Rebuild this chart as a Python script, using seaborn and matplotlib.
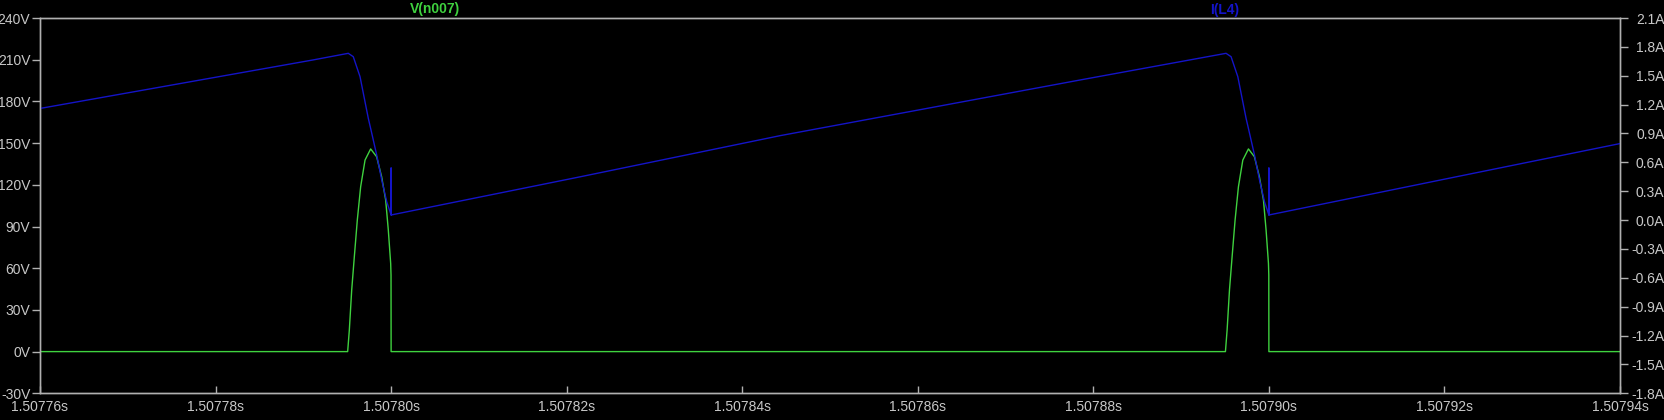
import matplotlib
matplotlib.use("Agg")
import matplotlib.pyplot as plt
import seaborn as sns
import pandas as pd
from matplotlib.ticker import FuncFormatter, FixedLocator

# ---- data (time as microseconds after 1.50776 s) ----
T0 = 1.50776
x_ticks_us = [0, 20, 40, 60, 80, 100, 120, 140, 160, 180]
v_ticks = [-30, 0, 30, 60, 90, 120, 150, 180, 210, 240]
i_ticks = [-1.8, -1.5, -1.2, -0.9, -0.6, -0.3, 0.0, 0.3, 0.6, 0.9, 1.2, 1.5, 1.8, 2.1]

# V(n007) in volts
v_time = [0.0, 35.05, 35.24, 35.51, 35.81, 36.15, 36.53, 37.03, 37.67, 38.35, 38.92,
          39.38, 39.68, 39.95, 39.99, 40.0,
          135.05, 135.24, 135.51, 135.81, 136.15, 136.53, 137.03, 137.67, 138.35, 138.92,
          139.38, 139.68, 139.95, 139.99, 140.0, 180.0]
v_vals = [0.0, 0.0, 15.5, 44.3, 68.3, 94.7, 118.6, 137.8, 145.8, 140.2, 125.8,
          109.1, 87.5, 63.5, 55.1, 0.0,
          0.0, 15.5, 44.3, 68.3, 94.7, 118.6, 137.8, 145.8, 140.2, 125.8,
          109.1, 87.5, 63.5, 55.1, 0.0, 0.0]

# I(L4) in amps
i_time = [0.0, 31.1, 35.12, 35.69, 36.46, 37.40, 37.71, 38.36, 38.93, 39.50, 40.0, 40.0, 40.0,
          61.5, 84.3, 118.5, 135.12, 135.69, 136.46, 137.40, 137.71, 138.36, 138.93, 139.50,
          140.0, 140.0, 140.0, 160.0, 180.0]
i_vals = [1.16, 1.664, 1.733, 1.698, 1.490, 1.058, 0.936, 0.676, 0.417, 0.191, 0.053, 0.541, 0.053,
          0.449, 0.877, 1.456, 1.733, 1.698, 1.490, 1.058, 0.936, 0.676, 0.417, 0.191,
          0.053, 0.541, 0.053, 0.425, 0.795]

sns.set_theme(style="dark")
plt.rcParams['font.family'] = ['Liberation Sans', 'DejaVu Sans']

W, H, DPI = 1664, 420, 100
fig = plt.figure(figsize=(W / DPI, H / DPI), dpi=DPI, facecolor="black")
ax = fig.add_axes([40 / W, 1 - 393.3 / H, (1620 - 40) / W, (393.3 - 18) / H])
ax.set_facecolor("black")
ax2 = ax.twinx()

green = "#3fd23f"
blue = "#1414c8"
txt = "#c8c8c8"
spine_c = "#b0b0b0"

dv = pd.DataFrame({"t": v_time, "v": v_vals})
di = pd.DataFrame({"t": i_time, "i": i_vals})
sns.lineplot(data=dv, x="t", y="v", ax=ax, color=green, lw=1.0, sort=False, estimator=None)
sns.lineplot(data=di, x="t", y="i", ax=ax2, color=blue, lw=1.0, sort=False, estimator=None)

ax.set_xlim(0, 180)
ax.set_ylim(-30, 240)
ax2.set_ylim(-1.8, 2.1)
ax.grid(False)
ax2.grid(False)
ax.set_xlabel("")
ax.set_ylabel("")
ax2.set_ylabel("")

ax.xaxis.set_major_locator(FixedLocator(x_ticks_us))
ax.xaxis.set_major_formatter(FuncFormatter(lambda x, p: f"{T0 + x * 1e-6:.5f}s"))
ax.yaxis.set_major_locator(FixedLocator(v_ticks))
ax.yaxis.set_major_formatter(FuncFormatter(lambda y, p: f"{int(round(y))}V"))
ax2.yaxis.set_major_locator(FixedLocator(i_ticks))
ax2.yaxis.set_major_formatter(FuncFormatter(lambda y, p: f"{y:.1f}A"))

fs = 10
ax.tick_params(axis="x", direction="in", length=5, width=1, color=spine_c, colors=txt,
               labelsize=fs, pad=5, bottom=True)
ax.tick_params(axis="y", direction="out", length=6, width=1, color=spine_c, colors=txt,
               labelsize=fs, pad=1, left=True)
ax2.tick_params(axis="y", direction="out", length=6, width=1, color=spine_c, colors=txt,
                labelsize=fs, pad=26, right=True)
for lab in ax2.get_yticklabels():
    lab.set_horizontalalignment("right")

for a in (ax, ax2):
    for s in a.spines.values():
        s.set_visible(True)
        s.set_color(spine_c)
        s.set_linewidth(1)

fig.text(435 / W, 1 - 9 / H, "V(n007)", color=green, ha="center", va="center",
         fontsize=fs, fontweight="bold")
fig.text(1225 / W, 1 - 10 / H, "I(L4)", color=blue, ha="center", va="center",
         fontsize=fs, fontweight="bold")

fig.savefig("out.png", dpi=DPI, facecolor="black")
